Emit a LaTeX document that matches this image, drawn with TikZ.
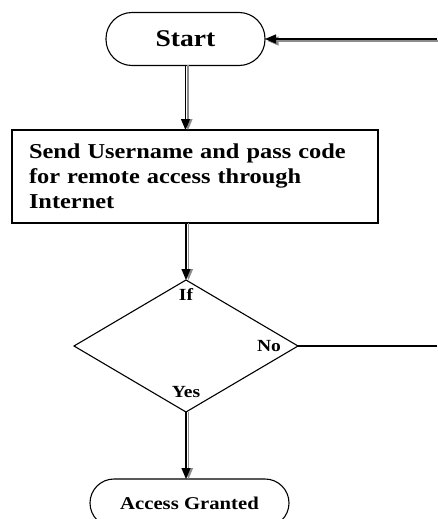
\documentclass[tikz,border=0pt]{standalone}
\usepackage{fontspec}
\setmainfont{Liberation Serif}[FakeStretch=1.15]
\usetikzlibrary{shapes.geometric,arrows.meta}
\tikzset{
  flowline/.style={line width=1.1pt, black},
  mainarrow/.style={line width=1.1pt, black, -{Triangle[length=11pt,width=9pt]}},
  shadowarrow/.style={line width=1.1pt, black!45, -{Triangle[length=11pt,width=9pt]}},
  terminal/.style={draw, line width=1.1pt, rectangle, inner sep=0pt, outer sep=0pt},
  procbox/.style={draw, line width=1.1pt, rectangle, outer sep=0pt, inner xsep=17pt, inner ysep=0pt, align=left, font=\bfseries\fontsize{21.2}{25}\selectfont},
  decision/.style={draw, line width=1.1pt, diamond, inner sep=0pt, outer sep=0pt, minimum width=224pt, minimum height=132pt},
  lbl/.style={inner sep=0pt, font=\bfseries\fontsize{17}{19}\selectfont}
}
\begin{document}
\begin{tikzpicture}[x=1pt,y=-1pt]
\useasboundingbox (0,0) rectangle (437,519);
% nodes
\node[terminal, minimum width=159pt, minimum height=53pt, rounded corners=26pt, font=\bfseries\fontsize{24}{28}\selectfont] (start) at (185.5,39) {Start};
\node[procbox, anchor=north west, text width=332pt, minimum height=93pt] (send) at (12,130) {Send Username and pass code\\for remote access through\\Internet};
\node[decision] (dec) at (186,346) {};
\node[lbl] (lif) at (186,295) {If};
\node[lbl] (lno) at (269,346) {No};
\node[lbl] (lyes) at (186,392) {Yes};
\node[terminal, minimum width=199pt, minimum height=48pt, rounded corners=24pt, font=\bfseries\fontsize{18}{21}\selectfont] (ag) at (189.5,503) {Access Granted};
\coordinate (loopin) at (437,39);
\coordinate (loopout) at (437,346);
% connectors: shadows first
\draw[shadowarrow] ([xshift=2.5pt,yshift=-2pt]loopin) -- ([xshift=2.5pt,yshift=-2pt]start.east);
\draw[shadowarrow] ([xshift=2.5pt]start.south) -- ([xshift=2.5pt]start.south |- send.north);
\draw[shadowarrow] ([xshift=2.5pt]dec.north |- send.south) -- ([xshift=2.5pt]dec.north);
\draw[shadowarrow] ([xshift=2.5pt]dec.south) -- ([xshift=2.5pt]dec.south |- ag.north);
% connectors
\draw[mainarrow] (loopin) -- (start.east);
\draw[mainarrow] (start.south) -- (start.south |- send.north);
\draw[mainarrow] (dec.north |- send.south) -- (dec.north);
\draw[mainarrow] (dec.south) -- (dec.south |- ag.north);
\draw[flowline] (dec.east) -- (loopout);
\end{tikzpicture}
\end{document}
